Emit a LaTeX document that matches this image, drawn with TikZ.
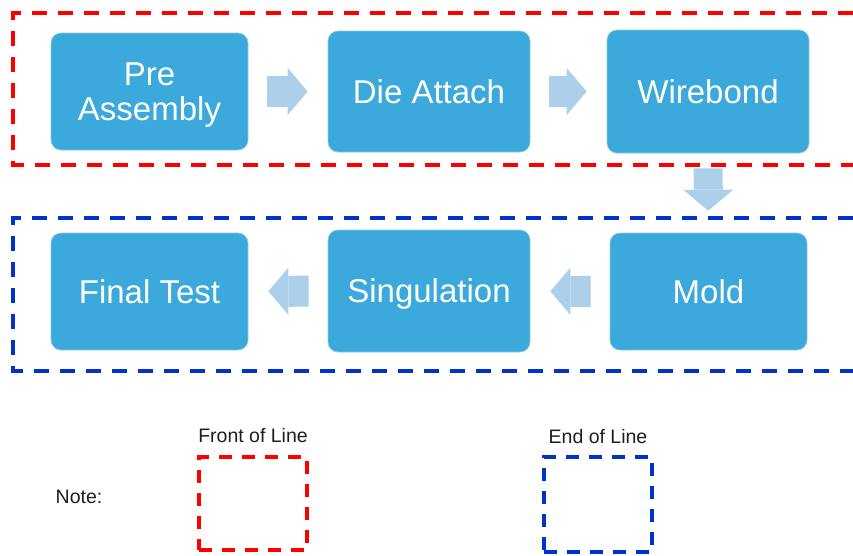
\documentclass[tikz,border=0pt]{standalone}
\usepackage{fontspec}
\setmainfont{Liberation Sans}
\usetikzlibrary{arrows.meta, positioning}

\begin{document}
\begin{tikzpicture}[x=1pt,y=-1pt]

%my colors
\definecolor{stepblue}{RGB}{59,169,219}
\definecolor{flowblue}{RGB}{173,208,234}
\definecolor{frontred}{RGB}{255,0,0}
\definecolor{endblue}{RGB}{0,51,204}
\definecolor{notegray}{RGB}{30,30,30}

\tikzset{
  stepbox/.style={rectangle, rounded corners=10pt, fill=stepblue, draw=stepblue!60!white, line width=0.6pt,
    text=white, align=center, font=\fontsize{33}{35.5}\selectfont, inner sep=0pt, text depth=0pt},
  flow/.style={flowblue, line width=31pt, -{Triangle[length=20pt,width=47pt,line width=0pt]},
    shorten <=19pt, shorten >=20pt},
  lineframe/.style={line width=3.2pt, dash pattern=on 15pt off 11pt},
  notetext/.style={text=notegray, font=\fontsize{19.5}{22}\selectfont}
}

\useasboundingbox (0,0) rectangle (853,555);

    % Front of line frame (open to the right)
    \draw[lineframe, frontred] (853,13) -- (13,13) -- (13,165) -- (853,165);
    % End of line frame
    \draw[lineframe, endblue] (853,218) -- (13,218) -- (13,371) -- (853,371);

    % Process steps, first row
    \node[stepbox, minimum width=197pt, minimum height=117pt] (pre) at (149.5,91.5) {Pre\\Assembly};
    \node[stepbox, minimum width=202pt, minimum height=121pt] (die) at (429,91.5) {Die Attach};
    \node[stepbox, minimum width=202pt, minimum height=123pt] (wire) at (708,91.5) {Wirebond};

    % Process steps, second row
    \node[stepbox, minimum width=197pt, minimum height=117pt] (mold) at (708.5,291.5) {Mold};
    \node[stepbox, minimum width=202pt, minimum height=122pt] (sing) at (429,291) {Singulation};
    \node[stepbox, minimum width=197pt, minimum height=117pt] (final) at (149.5,291.5) {Final Test};

    % Flow arrows
    \draw[flow] (pre) -- (die);
    \draw[flow] (die) -- (wire);
    \draw[flow, line width=29pt, -{Triangle[length=21pt,width=50pt,line width=0pt]},
      shorten <=15pt, shorten >=22pt] (wire) -- (mold);
    \draw[flow] (mold) -- (sing);
    \draw[flow] (sing) -- (final);

    % Legend
    \node[notetext] (note) at (79,497) {Note:};
    \node[lineframe, draw=frontred, dash pattern=on 13pt off 10pt, minimum width=108pt, minimum height=93pt] (frontkey) at (253,503.5) {};
    \node[notetext, above=9pt of frontkey] (frontlabel) {Front of Line};
    \node[lineframe, draw=endblue, dash pattern=on 13pt off 10pt, minimum width=108pt, minimum height=95pt] (endkey) at (598,504.5) {};
    \node[notetext, above=8pt of endkey] (endlabel) {End of Line};

\end{tikzpicture}
\end{document}
